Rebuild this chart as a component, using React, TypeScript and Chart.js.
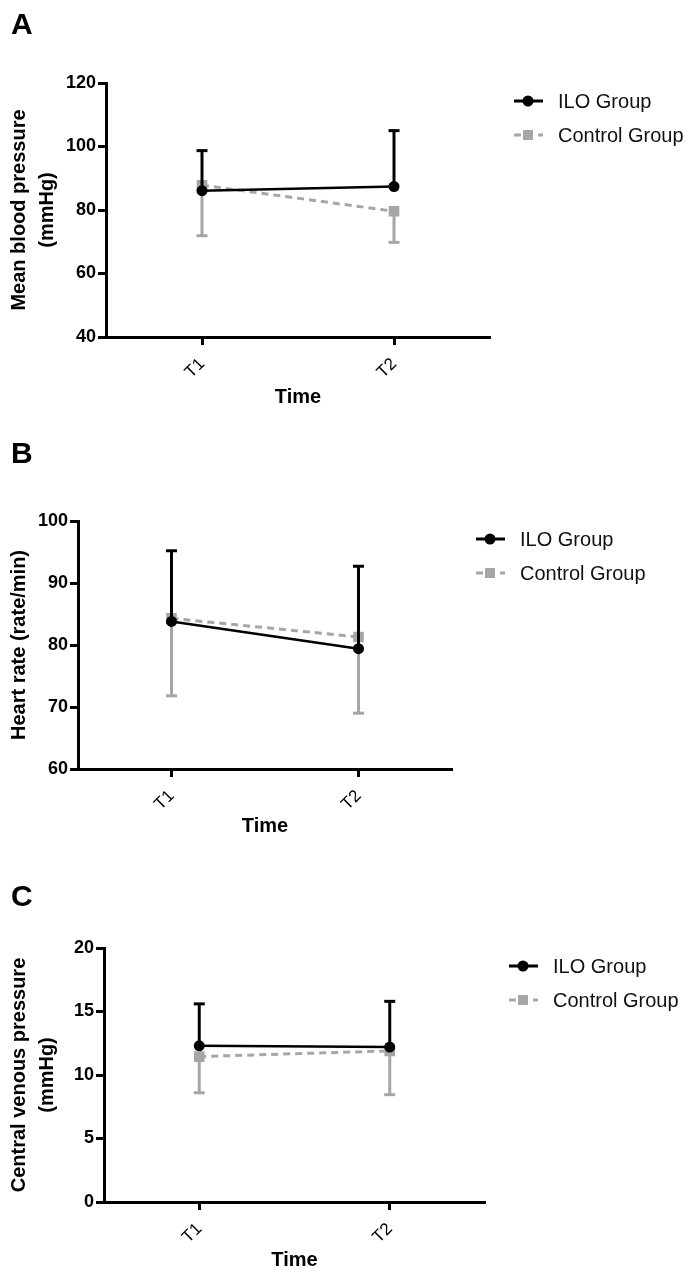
import React, { useEffect, useRef } from 'react';
import { Chart, registerables } from 'chart.js';

Chart.register(...registerables);

// ---------- data ----------
const timePoints = ['T1', 'T2'];
const seriesNames = ['ILO Group', 'Control Group'];

// A: mean blood pressure (mmHg)
const mapIloMean = [86.1, 87.4];
const mapIloSd = [12.6, 17.6];
const mapCtrlMean = [87.8, 79.6];
const mapCtrlSd = [15.9, 9.8];
const mapTicks = [40, 60, 80, 100, 120];

// B: heart rate (rate/min)
const hrIloMean = [83.8, 79.4];
const hrIloSd = [11.4, 13.3];
const hrCtrlMean = [84.3, 81.3];
const hrCtrlSd = [12.5, 12.3];
const hrTicks = [60, 70, 80, 90, 100];

// C: central venous pressure (mmHg)
const cvpIloMean = [12.3, 12.2];
const cvpIloSd = [3.3, 3.6];
const cvpCtrlMean = [11.45, 11.9];
const cvpCtrlSd = [2.85, 3.45];
const cvpTicks = [0, 5, 10, 15, 20];

// ---------- styling / layout ----------
const FONT = "'Liberation Sans', Arial, Helvetica, sans-serif";
const GREY = '#a6a6a6';

const panels = [
  {
    letter: 'A',
    yTitle: ['Mean blood pressure', '(mmHg)'],
    ilo: [mapIloMean, mapIloSd],
    ctrl: [mapCtrlMean, mapCtrlSd],
    ticks: mapTicks,
    top: 0,
    letterTop: 9,
    padTop: 83,
    yWidth: 106,
    padRight: 200,
    xHeight: 93,
    xTitlePad: 21,
  },
  {
    letter: 'B',
    yTitle: 'Heart rate (rate/min)',
    ilo: [hrIloMean, hrIloSd],
    ctrl: [hrCtrlMean, hrCtrlSd],
    ticks: hrTicks,
    top: 430,
    letterTop: 8,
    padTop: 91,
    yWidth: 78,
    padRight: 238,
    xHeight: 91,
    xTitlePad: 21.5,
  },
  {
    letter: 'C',
    yTitle: ['Central venous pressure', '(mmHg)'],
    ilo: [cvpIloMean, cvpIloSd],
    ctrl: [cvpCtrlMean, cvpCtrlSd],
    ticks: cvpTicks,
    top: 860,
    letterTop: 21,
    padTop: 88,
    yWidth: 104,
    padRight: 205,
    xHeight: 88,
    xTitlePad: 17.5,
  },
];

const CANVAS_W = 690;
const CANVAS_H = 430;

const errorBarPlugin = {
  id: 'errorBars',
  beforeDatasetDraw(chart: any, args: any) {
    const ds = chart.data.datasets[args.index];
    if (!ds.sd) return;
    const yScale = chart.scales.y;
    const ctx = chart.ctx;
    ctx.save();
    ctx.strokeStyle = ds.errColor;
    ctx.lineWidth = ds.errWidth;
    ctx.setLineDash([]);
    ctx.lineCap = 'butt';
    args.meta.data.forEach((pt: any, i: number) => {
      const yEnd = yScale.getPixelForValue(ds.data[i] + ds.errDir * ds.sd[i]);
      ctx.beginPath();
      ctx.moveTo(pt.x, pt.y);
      ctx.lineTo(pt.x, yEnd);
      ctx.stroke();
      ctx.beginPath();
      ctx.moveTo(pt.x - 5.5, yEnd);
      ctx.lineTo(pt.x + 5.5, yEnd);
      ctx.stroke();
    });
    ctx.restore();
  },
};

const sideLegendPlugin = {
  id: 'sideLegend',
  afterDraw(chart: any) {
    const { ctx, chartArea } = chart;
    const rows = [18, 52];
    chart.data.datasets.forEach((ds: any, i: number) => {
      const y = chartArea.top + rows[i];
      const x0 = chartArea.right + 24;
      ctx.save();
      ctx.strokeStyle = ds.borderColor;
      ctx.lineWidth = 3;
      ctx.setLineDash(ds.borderDash || []);
      ctx.beginPath();
      ctx.moveTo(x0, y);
      ctx.lineTo(x0 + 29, y);
      ctx.stroke();
      ctx.setLineDash([]);
      ctx.fillStyle = ds.pointBackgroundColor;
      const cx = x0 + 14;
      if (ds.pointStyle === 'circle') {
        ctx.beginPath();
        ctx.arc(cx, y, 5.5, 0, Math.PI * 2);
        ctx.fill();
      } else {
        ctx.fillRect(cx - 5, y - 5, 10, 10);
      }
      ctx.fillStyle = '#111';
      ctx.font = `20px ${FONT}`;
      ctx.textBaseline = 'middle';
      ctx.textAlign = 'left';
      ctx.fillText(seriesNames[i], chartArea.right + 68, y + 1);
      ctx.restore();
    });
  },
};

function Panel({ p }: { p: any }) {
  const ref = useRef<HTMLCanvasElement>(null);
  useEffect(() => {
    if (!ref.current) return;
    const ticks = p.ticks;
    const chart = new Chart(ref.current, {
      type: 'line',
      data: {
        labels: timePoints,
        datasets: [
          {
            label: seriesNames[0],
            data: p.ilo[0],
            sd: p.ilo[1],
            errDir: 1,
            errColor: '#000',
            errWidth: 3,
            borderColor: '#000',
            borderWidth: 2.5,
            pointStyle: 'circle',
            pointRadius: 5.5,
            pointBackgroundColor: '#000',
            pointBorderWidth: 0,
            tension: 0,
          } as any,
          {
            label: seriesNames[1],
            data: p.ctrl[0],
            sd: p.ctrl[1],
            errDir: -1,
            errColor: GREY,
            errWidth: 3,
            borderColor: GREY,
            borderWidth: 3,
            borderDash: [7, 5],
            pointStyle: 'rect',
            pointRadius: 7.5,
            pointBackgroundColor: GREY,
            pointBorderWidth: 0,
            tension: 0,
          } as any,
        ],
      },
      options: {
        responsive: false,
        animation: false,
        events: [],
        layout: { padding: { top: p.padTop, right: p.padRight, left: 0, bottom: 0 } },
        plugins: { legend: { display: false }, tooltip: { enabled: false } },
        scales: {
          x: {
            type: 'category',
            offset: true,
            ticks: {
              color: '#000',
              font: { family: FONT, size: 17 },
              maxRotation: 45,
              minRotation: 45,
              padding: 9,
            },
            grid: {
              drawOnChartArea: false,
              drawTicks: true,
              tickLength: 8,
              tickWidth: 3,
              tickColor: '#000',
              color: '#000',
            },
            border: { display: true, color: '#000', width: 3 },
            title: {
              display: true,
              text: 'Time',
              color: '#000',
              font: { family: FONT, size: 20, weight: 'bold', lineHeight: 1.2 },
              padding: { top: 0, bottom: p.xTitlePad },
            },
            afterFit: (s: any) => {
              s.height = p.xHeight;
            },
          },
          y: {
            min: ticks[0],
            max: ticks[ticks.length - 1],
            ticks: {
              stepSize: ticks[1] - ticks[0],
              color: '#000',
              font: { family: FONT, size: 18, weight: 'bold' },
              padding: 2,
            },
            grid: {
              drawOnChartArea: false,
              drawTicks: true,
              tickLength: 8,
              tickWidth: 3,
              tickColor: '#000',
              color: '#000',
            },
            border: { display: true, color: '#000', width: 3 },
            title: {
              display: true,
              text: p.yTitle,
              color: '#000',
              font: { family: FONT, size: 20, weight: 'bold', lineHeight: 1.4 },
              padding: { top: 5, bottom: 0 },
            },
            afterFit: (s: any) => {
              s.width = p.yWidth;
            },
          },
        },
      } as any,
      plugins: [errorBarPlugin, sideLegendPlugin],
    });
    return () => chart.destroy();
  }, [p]);

  return (
    <div style={{ position: 'absolute', left: 0, top: p.top, width: CANVAS_W, height: CANVAS_H }}>
      <canvas ref={ref} width={CANVAS_W} height={CANVAS_H} style={{ display: 'block' }} />
      <div
        style={{
          position: 'absolute',
          left: 11,
          top: p.letterTop,
          fontFamily: FONT,
          fontWeight: 'bold',
          fontSize: 30,
          lineHeight: '30px',
          color: '#000',
        }}
      >
        {p.letter}
      </div>
    </div>
  );
}

export default function App() {
  return (
    <div
      style={{
        position: 'absolute',
        left: 0,
        top: 0,
        width: 690,
        height: 1272,
        overflow: 'hidden',
        background: '#fff',
      }}
    >
      {panels.map((p) => (
        <Panel key={p.letter} p={p} />
      ))}
    </div>
  );
}
